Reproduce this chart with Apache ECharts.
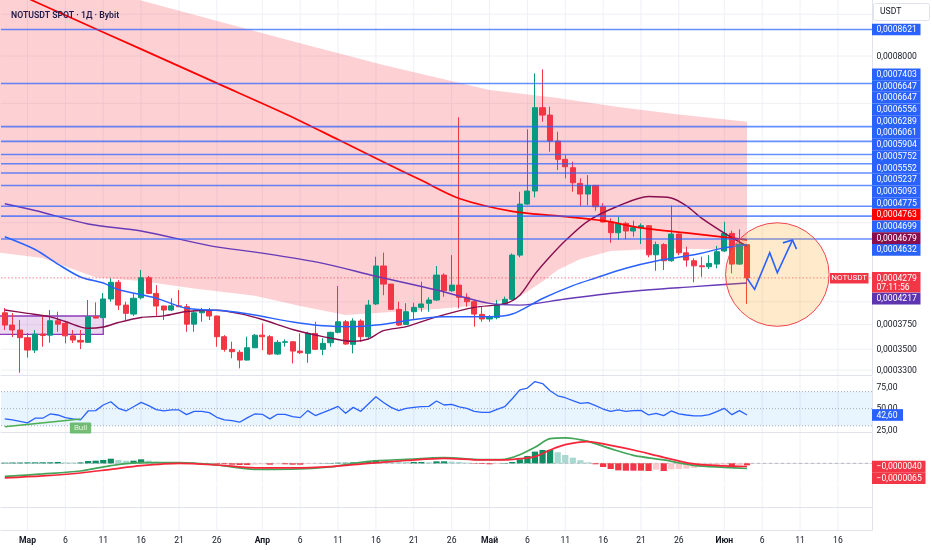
<!DOCTYPE html>
<html><head><meta charset="utf-8">
<script src="https://cdn.jsdelivr.net/npm/echarts@6/dist/echarts.min.js"></script>
<style>html,body{margin:0;padding:0;background:#fff}#c{width:932px;height:550px}</style>
</head><body><div id="c"></div>
<script>
// ---------- DATA ----------
const firstDay = '2025-02-26', lastAxisDay = '2025-06-20';
const opens = [3.878e-4,3.746e-4,3.694e-4,3.615e-4,3.491e-4,3.652e-4,3.641e-4,3.792e-4,3.764e-4,3.634e-4,
3.588e-4,3.568e-4,3.835e-4,3.825e-4,4.032e-4,4.226e-4,3.963e-4,3.864e-4,4.046e-4,4.281e-4,
4.096e-4,3.953e-4,3.908e-4,3.955e-4,3.945e-4,3.756e-4,3.878e-4,3.897e-4,3.843e-4,3.625e-4,
3.498e-4,3.469e-4,3.394e-4,3.514e-4,3.641e-4,3.625e-4,3.452e-4,3.568e-4,3.574e-4,3.481e-4,
3.459e-4,3.659e-4,3.498e-4,3.564e-4,3.670e-4,3.781e-4,3.548e-4,3.789e-4,3.625e-4,3.976e-4,
4.425e-4,4.205e-4,3.916e-4,3.753e-4,3.890e-4,3.938e-4,3.984e-4,4.020e-4,4.313e-4,4.127e-4,
4.193e-4,4.051e-4,4.001e-4,3.861e-4,3.811e-4,3.825e-4,3.972e-4,4.028e-4,4.563e-4,5.269e-4,
5.467e-4,6.915e-4,6.772e-4,6.294e-4,5.978e-4,5.838e-4,5.586e-4,5.420e-4,5.554e-4,5.230e-4,
5.009e-4,4.860e-4,4.990e-4,4.884e-4,4.930e-4,4.957e-4,4.567e-4,4.700e-4,4.491e-4,4.842e-4,
4.593e-4,4.491e-4,4.427e-4,4.416e-4,4.449e-4,4.616e-4,4.851e-4,4.449e-4,4.700e-4];
const closes = [3.746e-4,3.694e-4,3.615e-4,3.491e-4,3.652e-4,3.638e-4,3.792e-4,3.756e-4,3.634e-4,3.591e-4,
3.571e-4,3.835e-4,3.821e-4,4.032e-4,4.226e-4,3.963e-4,3.872e-4,4.040e-4,4.281e-4,4.096e-4,
3.953e-4,3.908e-4,3.955e-4,3.945e-4,3.756e-4,3.878e-4,3.897e-4,3.843e-4,3.625e-4,3.498e-4,
3.475e-4,3.394e-4,3.514e-4,3.641e-4,3.625e-4,3.452e-4,3.568e-4,3.574e-4,3.481e-4,3.465e-4,
3.659e-4,3.498e-4,3.558e-4,3.670e-4,3.781e-4,3.551e-4,3.789e-4,3.625e-4,3.963e-4,4.425e-4,
4.205e-4,3.916e-4,3.746e-4,3.890e-4,3.938e-4,3.976e-4,4.020e-4,4.313e-4,4.127e-4,4.193e-4,
4.051e-4,4.001e-4,3.864e-4,3.811e-4,3.835e-4,3.972e-4,4.028e-4,4.563e-4,5.269e-4,5.467e-4,
6.915e-4,6.772e-4,6.294e-4,5.978e-4,5.855e-4,5.596e-4,5.420e-4,5.554e-4,5.230e-4,5.009e-4,
4.860e-4,4.990e-4,4.884e-4,4.930e-4,4.957e-4,4.567e-4,4.700e-4,4.491e-4,4.842e-4,4.593e-4,
4.500e-4,4.427e-4,4.416e-4,4.458e-4,4.607e-4,4.851e-4,4.449e-4,4.707e-4,4.279e-4];
const lows = [3.694e-4,3.622e-4,3.275e-4,3.417e-4,3.462e-4,3.524e-4,3.564e-4,3.676e-4,3.558e-4,3.561e-4,
3.501e-4,3.564e-4,3.818e-4,3.821e-4,4.001e-4,3.908e-4,3.800e-4,3.843e-4,4.028e-4,4.088e-4,
3.845e-4,3.800e-4,3.897e-4,3.940e-4,3.676e-4,3.676e-4,3.781e-4,3.800e-4,3.524e-4,3.475e-4,
3.411e-4,3.316e-4,3.390e-4,3.511e-4,3.491e-4,3.442e-4,3.442e-4,3.524e-4,3.362e-4,3.452e-4,
3.368e-4,3.491e-4,3.442e-4,3.524e-4,3.659e-4,3.541e-4,3.459e-4,3.574e-4,3.609e-4,3.963e-4,
4.076e-4,3.908e-4,3.736e-4,3.746e-4,3.800e-4,3.890e-4,3.890e-4,4.012e-4,4.058e-4,4.115e-4,
3.927e-4,3.945e-4,3.729e-4,3.781e-4,3.781e-4,3.807e-4,3.963e-4,4.020e-4,4.535e-4,5.260e-4,
5.371e-4,6.646e-4,6.107e-4,5.800e-4,5.666e-4,5.456e-4,5.241e-4,5.254e-4,5.171e-4,4.999e-4,
4.725e-4,4.761e-4,4.771e-4,4.806e-4,4.707e-4,4.535e-4,4.366e-4,4.375e-4,4.478e-4,4.563e-4,
4.416e-4,4.226e-4,4.293e-4,4.388e-4,4.396e-4,4.603e-4,4.334e-4,4.437e-4,3.976e-4];
const highs = [3.931e-4,3.875e-4,3.800e-4,3.663e-4,3.694e-4,3.853e-4,3.908e-4,3.890e-4,3.781e-4,3.694e-4,
3.694e-4,4.020e-4,3.994e-4,4.100e-4,4.274e-4,4.253e-4,4.001e-4,4.096e-4,4.375e-4,4.302e-4,
4.193e-4,3.955e-4,4.040e-4,4.135e-4,3.976e-4,3.908e-4,3.931e-4,3.931e-4,3.845e-4,3.641e-4,
3.574e-4,3.491e-4,3.625e-4,3.652e-4,3.764e-4,3.641e-4,3.591e-4,3.598e-4,3.576e-4,3.659e-4,
3.676e-4,3.781e-4,3.609e-4,3.676e-4,4.182e-4,3.800e-4,3.818e-4,3.807e-4,4.020e-4,4.542e-4,
4.595e-4,4.207e-4,4.001e-4,3.984e-4,3.989e-4,4.233e-4,4.051e-4,4.425e-4,4.334e-4,4.563e-4,
6.730e-4,4.096e-4,4.020e-4,3.945e-4,3.853e-4,4.020e-4,4.058e-4,4.585e-4,5.456e-4,6.506e-4,
7.618e-4,7.705e-4,6.934e-4,6.462e-4,6.050e-4,5.937e-4,5.666e-4,5.718e-4,5.560e-4,5.282e-4,
5.062e-4,5.085e-4,5.013e-4,5.028e-4,4.990e-4,4.967e-4,4.740e-4,4.718e-4,5.248e-4,4.851e-4,
4.672e-4,4.522e-4,4.542e-4,4.563e-4,4.684e-4,5.013e-4,4.888e-4,4.907e-4,4.707e-4];

const redMA = [['2025-02-26',9.691e-4],['2025-03-06',8.976e-4],['2025-03-16',8.157e-4],['2025-03-26',7.411e-4],['2025-04-04',6.799e-4],['2025-04-11',6.321e-4],['2025-04-17',5.932e-4],['2025-04-22',5.634e-4],['2025-04-27',5.353e-4],['2025-05-04',5.162e-4],['2025-05-10',5.097e-4],['2025-05-16',5.028e-4],['2025-05-21',4.928e-4],['2025-05-27',4.857e-4],['2025-06-04',4.763e-4]];
const blueMA = [['2025-02-26',4.806e-4],['2025-03-02',4.636e-4],['2025-03-05',4.449e-4],['2025-03-08',4.290e-4],['2025-03-11',4.217e-4],['2025-03-13',4.141e-4],['2025-03-18',4.040e-4],['2025-03-22',3.927e-4],['2025-03-27',3.900e-4],['2025-03-31',3.853e-4],['2025-04-05',3.778e-4],['2025-04-09',3.738e-4],['2025-04-13',3.729e-4],['2025-04-16',3.746e-4],['2025-04-25',3.835e-4],['2025-05-01',3.835e-4],['2025-05-04',3.864e-4],['2025-05-08',4.037e-4],['2025-05-12',4.187e-4],['2025-05-15',4.278e-4],['2025-05-19',4.396e-4],['2025-05-23',4.487e-4],['2025-05-28',4.567e-4],['2025-06-01',4.657e-4],['2025-06-04',4.699e-4]];
const purpleMA = [['2025-02-26',5.274e-4],['2025-03-02',5.174e-4],['2025-03-09',4.982e-4],['2025-03-16',4.884e-4],['2025-03-25',4.687e-4],['2025-04-01',4.589e-4],['2025-04-09',4.458e-4],['2025-04-16',4.299e-4],['2025-04-24',4.135e-4],['2025-05-01',3.982e-4],['2025-05-05',3.963e-4],['2025-05-11',4.032e-4],['2025-05-19',4.115e-4],['2025-05-28',4.175e-4],['2025-06-04',4.217e-4]];
const maroonMA = [['2025-02-26',3.908e-4],['2025-03-01',3.872e-4],['2025-03-04',3.834e-4],['2025-03-06',3.784e-4],['2025-03-09',3.712e-4],['2025-03-11',3.726e-4],['2025-03-13',3.773e-4],['2025-03-16',3.827e-4],['2025-03-19',3.844e-4],['2025-03-22',3.892e-4],['2025-03-26',3.906e-4],['2025-03-29',3.869e-4],['2025-04-01',3.805e-4],['2025-04-05',3.699e-4],['2025-04-09',3.626e-4],['2025-04-13',3.578e-4],['2025-04-15',3.602e-4],['2025-04-17',3.687e-4],['2025-04-20',3.730e-4],['2025-04-24',3.834e-4],['2025-04-29',3.938e-4],['2025-05-03',3.980e-4],['2025-05-05',4.076e-4],['2025-05-07',4.325e-4],['2025-05-09',4.545e-4],['2025-05-11',4.752e-4],['2025-05-14',5.023e-4],['2025-05-18',5.241e-4],['2025-05-22',5.383e-4],['2025-05-25',5.360e-4],['2025-05-27',5.242e-4],['2025-05-29',5.065e-4],['2025-06-01',4.856e-4],['2025-06-04',4.679e-4]];
const bandUpper = [['2025-02-26',1.0399e-3],['2025-03-16',9.358e-4],['2025-04-05',8.339e-4],['2025-04-17',7.800e-4],['2025-05-01',7.268e-4],['2025-05-10',7.106e-4],['2025-05-18',6.928e-4],['2025-05-26',6.782e-4],['2025-06-04',6.647e-4]];
const bandLower = [['2025-02-26',4.596e-4],['2025-03-03',4.526e-4],['2025-03-10',4.284e-4],['2025-03-16',4.241e-4],['2025-03-23',4.153e-4],['2025-03-31',4.070e-4],['2025-04-06',3.953e-4],['2025-04-12',3.853e-4],['2025-04-17',3.881e-4],['2025-04-24',3.920e-4],['2025-04-30',3.963e-4],['2025-05-05',4.060e-4],['2025-05-08',4.235e-4],['2025-05-10',4.375e-4],['2025-05-13',4.513e-4],['2025-05-17',4.616e-4],['2025-05-24',4.649e-4],['2025-06-04',4.632e-4]];
const levelLines = [8.621e-4,7.403e-4,6.556e-4,6.289e-4,6.061e-4,5.904e-4,5.752e-4,5.552e-4,5.237e-4,5.093e-4,4.775e-4];
const extraTags = [6.647e-4];   // second 0,0006647 tag on the scale (no visible line)
const priceTicks = [8.0e-4,3.75e-4,3.5e-4,3.3e-4];
const priceGrid = [9.0e-4,8.0e-4,7.0e-4,6.0e-4,5.0e-4,4.0e-4,3.75e-4,3.5e-4,3.3e-4];
const lastPrice = 4.279e-4, countdown = '07:11:56', ticker = 'NOTUSDT';
const boxZone = {from:'2025-03-11', top:3.843e-4, bottom:3.649e-4};
const circleBox = {from:'2025-06-01', to:'2025-06-15', top:4.981e-4, bottom:3.746e-4};
const projection = [['2025-06-04',4.274e-4],['2025-06-05',4.143e-4],['2025-06-07',4.593e-4],['2025-06-08',4.341e-4],['2025-06-10',4.761e-4]];

const rsi = [38.0,36.8,35.2,33.3,38.8,38.8,43.8,42.6,39.5,38.0,
36.8,47.3,47.7,54.3,58.1,50.4,47.3,52.3,57.3,53.5,
48.8,47.3,48.5,48.5,43.0,46.9,46.9,45.3,39.9,36.8,
36.0,34.1,39.2,43.8,43.4,38.0,43.4,43.4,40.7,39.5,
47.7,41.9,45.3,48.8,52.7,44.6,51.5,46.9,55.5,64.0,
57.3,51.5,47.7,50.4,51.5,52.3,52.7,59.0,54.3,55.0,
52.0,50.4,46.9,45.7,45.7,49.2,52.3,61.6,72.1,74.1,
81.7,79.4,70.9,65.1,62.8,59.3,56.2,57.0,53.5,49.6,
46.9,48.5,46.9,47.7,48.0,42.6,44.6,41.9,47.3,43.8,
42.6,41.5,41.5,43.0,46.5,50.4,43.0,47.7,42.6];
const rsiTicks = [75,50,25];
const rsiBand = [30,70], rsiGuides = [70,50,30];
const bullLine = [['2025-02-26',28.8],['2025-03-08',38.0]];

const macdHist = [0.8e-6,1.0e-6,1.0e-6,1.2e-6,1.2e-6,1.3e-6,1.3e-6,1.7e-6,1.2e-6,1.0e-6,1.1e-6,
2.9e-6,3.3e-6,4.2e-6,5.8e-6,4.2e-6,3.3e-6,3.3e-6,5.0e-6,3.3e-6,2.1e-6,
1.2e-6,0.8e-6,0.4e-6,0.2e-6,0.1e-6,-0.1e-6,-0.4e-6,
-0.8e-6,-1.2e-6,-1.7e-6,-2.1e-6,-2.1e-6,-1.7e-6,-1.2e-6,-1.7e-6,
-1.2e-6,-1.2e-6,-1.7e-6,-1.7e-6,-0.8e-6,-0.4e-6,0.2e-6,0.4e-6,
0.8e-6,0.8e-6,1.2e-6,1.2e-6,2.1e-6,4.2e-6,3.8e-6,
2.9e-6,2.1e-6,1.7e-6,1.7e-6,1.7e-6,1.2e-6,2.5e-6,2.5e-6,2.1e-6,
1.7e-6,0.8e-6,-0.4e-6,-0.8e-6,-1.2e-6,-0.8e-6,0.4e-6,1.7e-6,5.0e-6,9.2e-6,
14.6e-6,16.7e-6,16.7e-6,13.8e-6,10.4e-6,7.1e-6,3.8e-6,1.2e-6,-1.2e-6,-4.6e-6,
-7.1e-6,-8.8e-6,-9.2e-6,-9.2e-6,-9.2e-6,-9.6e-6,-7.9e-6,-9.6e-6,-7.5e-6,-7.1e-6,
-6.7e-6,-5.8e-6,-4.6e-6,-3.8e-6,-2.9e-6,-1.7e-6,-4.2e-6,-2.5e-6,-2.5e-6];
const macdLine = [['2025-02-26',-16.3e-6],['2025-03-03',-13.3e-6],['2025-03-08',-9.6e-6],['2025-03-12',-2.9e-6],['2025-03-16',0.8e-6],['2025-03-21',0.8e-6],['2025-03-26',-2.1e-6],['2025-03-31',-7.5e-6],['2025-04-05',-7.3e-6],['2025-04-10',-4.6e-6],['2025-04-15',2.5e-6],['2025-04-20',5.0e-6],['2025-04-25',7.1e-6],['2025-04-30',4.6e-6],['2025-05-03',5.0e-6],['2025-05-05',10.8e-6],['2025-05-07',20.0e-6],['2025-05-09',30.8e-6],['2025-05-11',31.9e-6],['2025-05-14',27.5e-6],['2025-05-17',18.3e-6],['2025-05-20',10.0e-6],['2025-05-24',4.2e-6],['2025-05-28',-2.5e-6],['2025-06-01',-5.0e-6],['2025-06-04',-6.5e-6]];
const signalLine = [['2025-02-26',-18.3e-6],['2025-03-03',-15.8e-6],['2025-03-08',-12.1e-6],['2025-03-12',-7.5e-6],['2025-03-16',-2.9e-6],['2025-03-21',0],['2025-03-26',-2.1e-6],['2025-03-31',-5.6e-6],['2025-04-05',-5.8e-6],['2025-04-10',-4.2e-6],['2025-04-15',0],['2025-04-20',3.5e-6],['2025-04-25',6.3e-6],['2025-04-30',4.2e-6],['2025-05-03',4.2e-6],['2025-05-05',5.8e-6],['2025-05-07',8.3e-6],['2025-05-09',16.7e-6],['2025-05-11',23.3e-6],['2025-05-14',27.1e-6],['2025-05-17',22.5e-6],['2025-05-20',16.7e-6],['2025-05-24',7.5e-6],['2025-05-28',-0.8e-6],['2025-06-01',-3.3e-6],['2025-06-04',-4.0e-6]];

const monthNames = ['Янв','Фев','Мар','Апр','Май','Июн','Июл','Авг','Сен','Окт','Ноя','Дек'];
const labelDays = [1,6,11,16,21,26];

// ---------- BUILD ----------
const categories = [];
(function(){ let t = Date.parse(firstDay + 'T00:00:00Z'); const end = Date.parse(lastAxisDay + 'T00:00:00Z');
  while (t <= end) { categories.push(new Date(t).toISOString().slice(0,10)); t += 86400000; } })();
const idx = d => categories.indexOf(d);
const candles = opens.map((o,i)=>[o, closes[i], lows[i], highs[i]]);
const labelIdx = categories.map((c,i)=>i).filter(i=>i>0 && labelDays.includes(+categories[i].slice(8,10)));

const FF = 'Roboto, "Noto Sans", sans-serif';
const UP = '#089981', DN = '#f23645';
const GRID_L = 1, GRID_R = 60;
const showIdx = (i, v) => i > 0 && labelDays.includes(+String(v).slice(8,10));

const grids = [
  {left:GRID_L, right:GRID_R, top:0, height:375},
  {left:GRID_L, right:GRID_R, top:377, height:55},
  {left:GRID_L, right:GRID_R, top:433, height:50},
  {left:GRID_L, right:GRID_R, top:484, height:23},
  {left:GRID_L, right:GRID_R, top:508, height:22}
];
const xAxes = grids.map((g,i)=>({
  type:'category', gridIndex:i, data:categories, boundaryGap:true,
  axisLine:{show:true, lineStyle:{color:'#e0e3eb', width:1}},
  axisTick:{show:false}, splitLine:{show:false},
  axisLabel: i===4 ? {
    show:true, interval:showIdx, margin:6, color:'#131722', fontSize:8.6, fontFamily:FF,
    formatter:(v)=>{ const d=+v.slice(8,10), m=+v.slice(5,7)-1; return d===1 ? '{m|'+monthNames[m]+'}' : String(d); },
    rich:{m:{fontWeight:'bold', fontSize:8.6, color:'#131722', fontFamily:FF}}
  } : {show:false}
}));
const yBase = {position:'right', axisLabel:{show:false}, axisTick:{show:false}, splitLine:{show:false},
  axisLine:{show:true, lineStyle:{color:'#e0e3eb'}}};
const yMins = [3.254e-4, 22.66, -24.6e-6, 0, 0];
const yAxes = [
  Object.assign({type:'log', gridIndex:0, min:yMins[0], max:9.369e-4}, yBase),
  Object.assign({type:'value', gridIndex:1, min:yMins[1], max:87.1}, yBase),
  Object.assign({type:'value', gridIndex:2, min:yMins[2], max:37.9e-6}, yBase),
  Object.assign({type:'value', gridIndex:3, min:yMins[3], max:1}, yBase),
  Object.assign({type:'value', gridIndex:4, min:yMins[4], max:1}, yBase)
];

const histColors = macdHist.map((v,i)=>{ const p = i>0 ? macdHist[i-1] : v;
  if (v >= 0) return v >= p ? '#0f8d63' : '#a6d9cf'; return v <= p ? '#f23645' : '#fbc8cc'; });

const GRIDCOL = '#eef0f5';
// full-width horizontal rules at given values (through the pane's y scale)
const hRules = (gi, values, style, z) => ({type:'custom', xAxisIndex:gi, yAxisIndex:gi, z, silent:true,
  data: values.map(v=>[0, v]), encode:{x:0, y:1},
  renderItem:(p, api)=>{ const cs = p.coordSys; const y = api.coord([0, api.value(1)])[1];
    return {type:'line', shape:{x1:cs.x, y1:y, x2:cs.x+cs.width, y2:y}, style}; }});
// full-height vertical rules at the labelled dates
const vRules = (gi, z) => ({type:'custom', xAxisIndex:gi, yAxisIndex:gi, z, silent:true,
  data: labelIdx.map(i=>[i, yMins[gi]]), encode:{x:0, y:1},
  renderItem:(p, api)=>{ const cs = p.coordSys; const x = api.coord([api.value(0), yMins[gi]])[0];
    return {type:'line', shape:{x1:x, y1:cs.y, x2:x, y2:cs.y+cs.height}, style:{stroke:GRIDCOL, lineWidth:1}}; }});

const maLine = (data, color, w, z) => ({type:'line', xAxisIndex:0, yAxisIndex:0, data, smooth:0.3, showSymbol:false, symbol:'none',
  lineStyle:{color, width:w}, z, silent:true});

const series = [
  vRules(0, 0), vRules(1, 0), vRules(2, 0), vRules(3, 0), vRules(4, 0),
  hRules(0, priceGrid, {stroke:GRIDCOL, lineWidth:1}, 0),
  // pink envelope
  {type:'custom', xAxisIndex:0, yAxisIndex:0, z:1, silent:true, data:[[0, bandLower[0][1]]], encode:{x:0,y:1},
   renderItem:(p, api)=>{
     const up = bandUpper.map(q=>api.coord([idx(q[0]), q[1]]));
     const lo = bandLower.map(q=>api.coord([idx(q[0]), q[1]])).reverse();
     up[0] = [up[0][0]-6, up[0][1]]; lo[lo.length-1] = [lo[lo.length-1][0]-6, lo[lo.length-1][1]];
     return {type:'polygon', shape:{points:up.concat(lo)}, style:{fill:'rgba(248,82,96,0.27)'}};
   }},
  // purple drawn zone
  {type:'custom', xAxisIndex:0, yAxisIndex:0, z:2, silent:true, data:[[0, boxZone.top]], encode:{x:0,y:1},
   renderItem:(p, api)=>{
     const a = api.coord([-1, boxZone.top]), b = api.coord([idx(boxZone.from), boxZone.bottom]);
     return {type:'rect', shape:{x:a[0], y:a[1], width:b[0]-a[0], height:b[1]-a[1]},
       style:{fill:'rgba(156,39,176,0.18)', stroke:'#8e3ab8', lineWidth:1.3}};
   }},
  {type:'candlestick', name:'NOTUSDT', xAxisIndex:0, yAxisIndex:0, data:candles, barWidth:'74%', z:3,
   itemStyle:{color:UP, color0:DN, borderColor:UP, borderColor0:DN, borderWidth:1}},
  maLine(maroonMA, '#880e4f', 1.4, 4),
  maLine(purpleMA, '#673ab7', 1.4, 4),
  maLine(blueMA, '#2962ff', 1.5, 4),
  maLine(redMA, '#ff0000', 1.7, 4),
  // drawn horizontal levels and the live-price line
  hRules(0, levelLines, {stroke:'#2962ff', lineWidth:1.6, opacity:0.72}, 5),
  hRules(0, [lastPrice], {stroke:'#f23645', lineWidth:1, lineDash:[1.5,2], opacity:0.6}, 5),
  // circle
  {type:'custom', xAxisIndex:0, yAxisIndex:0, z:6, silent:true, data:[[idx(circleBox.from), circleBox.top]], encode:{x:0,y:1},
   renderItem:(p, api)=>{
     const a = api.coord([idx(circleBox.from), circleBox.top]), b = api.coord([idx(circleBox.to), circleBox.bottom]);
     const cx=(a[0]+b[0])/2, cy=(a[1]+b[1])/2, r=((b[0]-a[0])+(b[1]-a[1]))/4;
     return {type:'circle', shape:{cx, cy, r}, style:{fill:'rgba(255,152,0,0.2)', stroke:'#f0474f', lineWidth:1}};
   }},
  // projected zig-zag arrow
  {type:'custom', xAxisIndex:0, yAxisIndex:0, z:7, silent:true, data:[[idx(projection[0][0]), projection[0][1]]], encode:{x:0,y:1},
   renderItem:(p, api)=>{
     const pts = projection.map(q=>api.coord([idx(q[0]), q[1]]));
     const n = pts.length, t = pts[n-1], s = pts[n-2];
     const ang = Math.atan2(t[1]-s[1], t[0]-s[0]), L = 10, sp = 0.85;
     const h1 = [t[0]-L*Math.cos(ang-sp), t[1]-L*Math.sin(ang-sp)];
     const h2 = [t[0]-L*Math.cos(ang+sp), t[1]-L*Math.sin(ang+sp)];
     return {type:'group', children:[
       {type:'polyline', shape:{points:pts}, style:{stroke:'#2962ff', lineWidth:1.6, fill:null}},
       {type:'polyline', shape:{points:[h1,t,h2]}, style:{stroke:'#2962ff', lineWidth:1.6, fill:null}}
     ]};
   }},
  // RSI
  {type:'custom', xAxisIndex:1, yAxisIndex:1, z:1, silent:true, data:[[0, rsiBand[1]]], encode:{x:0,y:1},
   renderItem:(p, api)=>{ const cs = p.coordSys; const y1 = api.coord([0, rsiBand[1]])[1], y2 = api.coord([0, rsiBand[0]])[1];
     return {type:'rect', shape:{x:cs.x, y:y1, width:cs.width, height:y2-y1}, style:{fill:'rgba(33,150,243,0.1)'}}; }},
  hRules(1, rsiGuides, {stroke:'#9598a1', lineWidth:1, lineDash:[1,2], opacity:0.8}, 2),
  {type:'line', xAxisIndex:1, yAxisIndex:1, data:rsi, showSymbol:false, symbol:'none', z:3, silent:true,
   lineStyle:{color:'#2962ff', width:1.3}},
  {type:'line', xAxisIndex:1, yAxisIndex:1, data:bullLine, showSymbol:false, symbol:'none', z:4, silent:true,
   lineStyle:{color:'#4caf50', width:1.5}},
  {type:'scatter', xAxisIndex:1, yAxisIndex:1, data:[bullLine[1]], symbolSize:1, itemStyle:{color:'rgba(0,0,0,0)'}, z:5, silent:true,
   label:{show:true, position:'bottom', distance:3, formatter:'Bull', color:'#fff', backgroundColor:'#4caf50',
     padding:[2,4,1,4], fontSize:8, fontFamily:FF, borderRadius:1}},
  // MACD
  hRules(2, [0], {stroke:'#b2b5be', lineWidth:1, lineDash:[3,3], opacity:0.9}, 1),
  {type:'bar', xAxisIndex:2, yAxisIndex:2, data:macdHist.map((v,i)=>({value:v, itemStyle:{color:histColors[i]}})),
   barWidth:'82%', z:2, silent:true},
  {type:'line', xAxisIndex:2, yAxisIndex:2, data:macdLine, smooth:0.3, showSymbol:false, symbol:'none', z:3, silent:true,
   lineStyle:{color:'#43a55a', width:1.7}},
  {type:'line', xAxisIndex:2, yAxisIndex:2, data:signalLine, smooth:0.3, showSymbol:false, symbol:'none', z:4, silent:true,
   lineStyle:{color:'#f7253a', width:1.7}}
];

const option = {
  animation:false, backgroundColor:'#ffffff',
  title:{text:'NOTUSDT SPOT · 1Д · Bybit', left:6, top:6,
    textStyle:{fontSize:8.7, fontWeight:600, color:'#1d1b4c', fontFamily:FF}},
  grid:grids, xAxis:xAxes, yAxis:yAxes, series
};

const chart = echarts.init(document.getElementById('c'));
chart.setOption(option);

// ---------- right-hand price-scale tags (positions from the library's scales) ----------
const yPix = (a, v) => chart.convertToPixel({yAxisIndex:a}, v);
const FONT = '8.6px ' + FF;
const TH = 11.7, TX = 872, TTX = 876.5;
const G = [];
function tag(y, text, color, w){
  G.push({type:'rect', z:100, shape:{x:TX, y:y-TH/2, width:w, height:TH}, style:{fill:color}});
  G.push({type:'text', z:101, x:TTX, y:y+0.5, style:{text, fill:'#fff', font:FONT, verticalAlign:'middle', textVerticalAlign:'middle'}});
}
function plain(y, text){
  G.push({type:'text', z:99, x:TTX, y:y+0.5, style:{text, fill:'#131722', font:FONT, verticalAlign:'middle', textVerticalAlign:'middle'}});
}
const f7 = v => (v<0?'−':'') + Math.abs(v).toFixed(7).replace('.', ',');
const f2 = v => v.toFixed(2).replace('.', ',');
const last = a => a[a.length-1][1];

priceTicks.forEach(v=>plain(yPix(0,v), f7(v)));
const upperTags = levelLines.concat(extraTags).map(v=>({v, c:'#2962ff'})).concat([
  {v:last(bandUpper), c:'#2962ff'}, {v:last(redMA), c:'#ff0000'}, {v:last(blueMA), c:'#2962ff'},
  {v:last(maroonMA), c:'#880e4f'}, {v:last(bandLower), c:'#2962ff'}
]).sort((a,b)=>b.v-a.v).map(t=>Object.assign(t, {y:yPix(0,t.v)}));
for (let k = upperTags.length-2; k >= 0; k--) upperTags[k].y = Math.min(upperTags[k].y, upperTags[k+1].y - TH);
upperTags.forEach(t=>tag(t.y, f7(t.v), t.c, 48.5));

const py = yPix(0, lastPrice);
G.push({type:'rect', z:100, shape:{x:TX, y:py-TH/2, width:48.5, height:TH*1.75}, style:{fill:'#f23645'}});
G.push({type:'text', z:101, x:TTX, y:py+0.5, style:{text:f7(lastPrice), fill:'#fff', font:FONT, verticalAlign:'middle', textVerticalAlign:'middle'}});
G.push({type:'text', z:101, x:TTX, y:py+10, style:{text:countdown, fill:'#fff', font:FONT, verticalAlign:'middle', textVerticalAlign:'middle'}});
G.push({type:'rect', z:100, shape:{x:830, y:py-5, width:38.5, height:10.5}, style:{fill:'#f23645'}});
G.push({type:'text', z:101, x:849.2, y:py+0.5, style:{text:ticker, fill:'#fff', font:'8px '+FF, align:'center', textAlign:'center', verticalAlign:'middle', textVerticalAlign:'middle'}});
const purpY = Math.max(yPix(0, last(purpleMA)), py - TH/2 + TH*1.75 + TH/2 + 0.3);
tag(purpY, f7(last(purpleMA)), '#5e35b1', 48.5);

rsiTicks.forEach(v=>plain(yPix(1,v), f2(v)));
tag(yPix(1, rsi[rsi.length-1]), f2(rsi[rsi.length-1]), '#2962ff', 31);

const m1 = yPix(2, last(signalLine)), m2 = Math.max(yPix(2, last(macdLine)), m1 + TH);
tag(m1, f7(last(signalLine)), '#f23645', 53.5);
tag(m2, f7(last(macdLine)), '#f23645', 53.5);

G.push({type:'rect', z:100, shape:{x:873.5, y:3.5, width:56, height:17, r:2}, style:{fill:'#fff', stroke:'#e0e3eb', lineWidth:1}});
G.push({type:'text', z:101, x:880, y:12.3, style:{text:'USDT', fill:'#131722', font:FONT, verticalAlign:'middle', textVerticalAlign:'middle'}});

chart.setOption({graphic:G});
</script>
</body></html>
